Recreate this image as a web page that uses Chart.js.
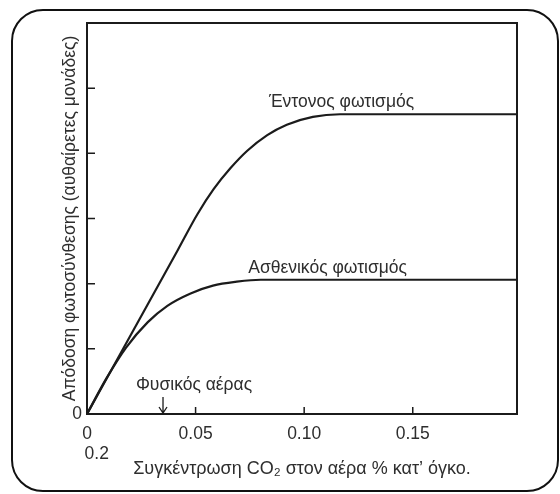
<!DOCTYPE html>
<html lang="el">
<head>
<meta charset="UTF-8">
<title>Απόδοση φωτοσύνθεσης και CO2</title>
<script src="https://cdn.jsdelivr.net/npm/chart.js"></script>
<style>
  html, body { margin: 0; padding: 0; background: #fff; }
  body { width: 560px; height: 494px; position: relative; overflow: hidden; }
  .frame {
    position: absolute; left: 11px; top: 9px; width: 548px; height: 483px;
    box-sizing: border-box; border: 2.5px solid #111; border-radius: 32px;
  }
  #chart { position: absolute; left: 0; top: 0; }
</style>
</head>
<body>
<div class="frame"></div>
<canvas id="chart" width="560" height="494"></canvas>
<script>
// CO2 (% κατ' όγκο) -> απόδοση φωτοσύνθεσης (αυθαίρετες μονάδες)
const strongX = [0, 0.0417, 0.0509, 0.0583, 0.066, 0.0738, 0.083, 0.092, 0.104, 0.1165, 0.198];
const strongY = [0, 2.51, 3.07, 3.45, 3.77, 4.04, 4.28, 4.44, 4.56, 4.60, 4.60];
const weakX = [0, 0.009, 0.018, 0.028, 0.037, 0.0477, 0.058, 0.069, 0.080, 0.198];
const weakY = [0, 0.55, 1.02, 1.41, 1.66, 1.85, 1.97, 2.03, 2.06, 2.06];

const xTicks = [0, 0.05, 0.10, 0.15];
// the second line under 0 sits a bit to the right, hence the figure spaces
const xTickLabels = [['0', '\u2007\u20070.2'], '0.05', '0.10', '0.15'];
const yTicks = [0, 1, 2, 3, 4, 5];
const yTickLabels = ['0', '', '', '', '', ''];

const strongLabel = 'Έντονος φωτισμός';
const weakLabel = 'Ασθενικός φωτισμός';
const naturalAir = 0.035;
const naturalAirLabel = 'Φυσικός αέρας';

const ink = '#1b1b1b';
const textInk = '#2e2e2e';
const fontFamily = '"Liberation Sans", Arial, Helvetica, sans-serif';
const fontSize = 17.5;

function points(xs, ys) {
  return xs.map((x, i) => ({ x: x, y: ys[i] }));
}

// box, inward ticks and the text notes on the curves
const notes = {
  id: 'notes',
  afterDatasetsDraw(chart) {
    const { ctx, chartArea: a, scales: { x, y } } = chart;
    ctx.save();
    ctx.strokeStyle = ink;
    ctx.lineWidth = 2;
    ctx.strokeRect(a.left, a.top, a.right - a.left, a.bottom - a.top);

    ctx.lineWidth = 1.5;
    ctx.beginPath();
    yTicks.filter(v => v > 0).forEach(v => {
      const py = y.getPixelForValue(v);
      ctx.moveTo(a.left, py);
      ctx.lineTo(a.left + 8, py);
    });
    xTicks.filter(v => v > 0).forEach(v => {
      const px = x.getPixelForValue(v);
      ctx.moveTo(px, a.bottom);
      ctx.lineTo(px, a.bottom - 7);
    });
    ctx.stroke();

    ctx.fillStyle = textInk;
    ctx.font = fontSize + 'px ' + fontFamily;
    ctx.textAlign = 'center';
    ctx.textBaseline = 'alphabetic';
    ctx.fillText(strongLabel, x.getPixelForValue(0.1172), y.getPixelForValue(strongY[strongY.length - 1]) - 7);
    ctx.fillText(weakLabel, x.getPixelForValue(0.1108), y.getPixelForValue(weakY[weakY.length - 1]) - 7);

    // arrow for natural air
    const ax = x.getPixelForValue(naturalAir);
    ctx.fillText(naturalAirLabel, ax + 31, a.bottom - 24);
    ctx.lineWidth = 1.3;
    ctx.beginPath();
    ctx.moveTo(ax, a.bottom - 17);
    ctx.lineTo(ax, a.bottom - 1);
    ctx.moveTo(ax - 4, a.bottom - 7);
    ctx.lineTo(ax, a.bottom - 1);
    ctx.lineTo(ax + 4, a.bottom - 7);
    ctx.stroke();
    ctx.restore();
  }
};

new Chart(document.getElementById('chart'), {
  type: 'line',
  data: {
    datasets: [
      { data: points(strongX, strongY), borderColor: ink, borderWidth: 2.2, pointRadius: 0, cubicInterpolationMode: 'monotone', fill: false },
      { data: points(weakX, weakY), borderColor: ink, borderWidth: 2.2, pointRadius: 0, cubicInterpolationMode: 'monotone', fill: false }
    ]
  },
  options: {
    responsive: false,
    animation: false,
    layout: { padding: { left: 55, top: 23, right: 43, bottom: 8 } },
    plugins: { legend: { display: false }, tooltip: { enabled: false } },
    scales: {
      x: {
        type: 'linear',
        min: 0,
        max: 0.198,
        afterBuildTicks: s => { s.ticks = xTicks.map(v => ({ value: v })); },
        afterFit: s => { s.height = 72; },
        grid: { display: false, drawTicks: false },
        border: { display: false },
        ticks: {
          padding: 11,
          color: textInk,
          font: { family: fontFamily, size: fontSize, lineHeight: 1.1 },
          maxRotation: 0,
          autoSkip: false,
          callback: (v, i) => xTickLabels[i]
        },
        title: {
          display: true,
          text: 'Συγκέντρωση CO₂ στον αέρα % κατ’ όγκο.',
          color: textInk,
          font: { family: fontFamily, size: 18 },
          padding: { top: 0, bottom: 6 }
        }
      },
      y: {
        type: 'linear',
        min: 0,
        max: 6,
        afterBuildTicks: s => { s.ticks = yTicks.map(v => ({ value: v })); },
        afterFit: s => { s.width = 32; },
        grid: { display: false, drawTicks: false },
        border: { display: false },
        ticks: {
          padding: 5,
          color: textInk,
          font: { family: fontFamily, size: fontSize },
          autoSkip: false,
          callback: (v, i) => yTickLabels[i]
        },
        title: {
          display: true,
          text: 'Απόδοση φωτοσύνθεσης (αυθαίρετες μονάδες)',
          color: textInk,
          font: { family: fontFamily, size: fontSize },
          padding: { top: 5, bottom: 0 }
        }
      }
    }
  },
  plugins: [notes]
});
</script>
</body>
</html>
